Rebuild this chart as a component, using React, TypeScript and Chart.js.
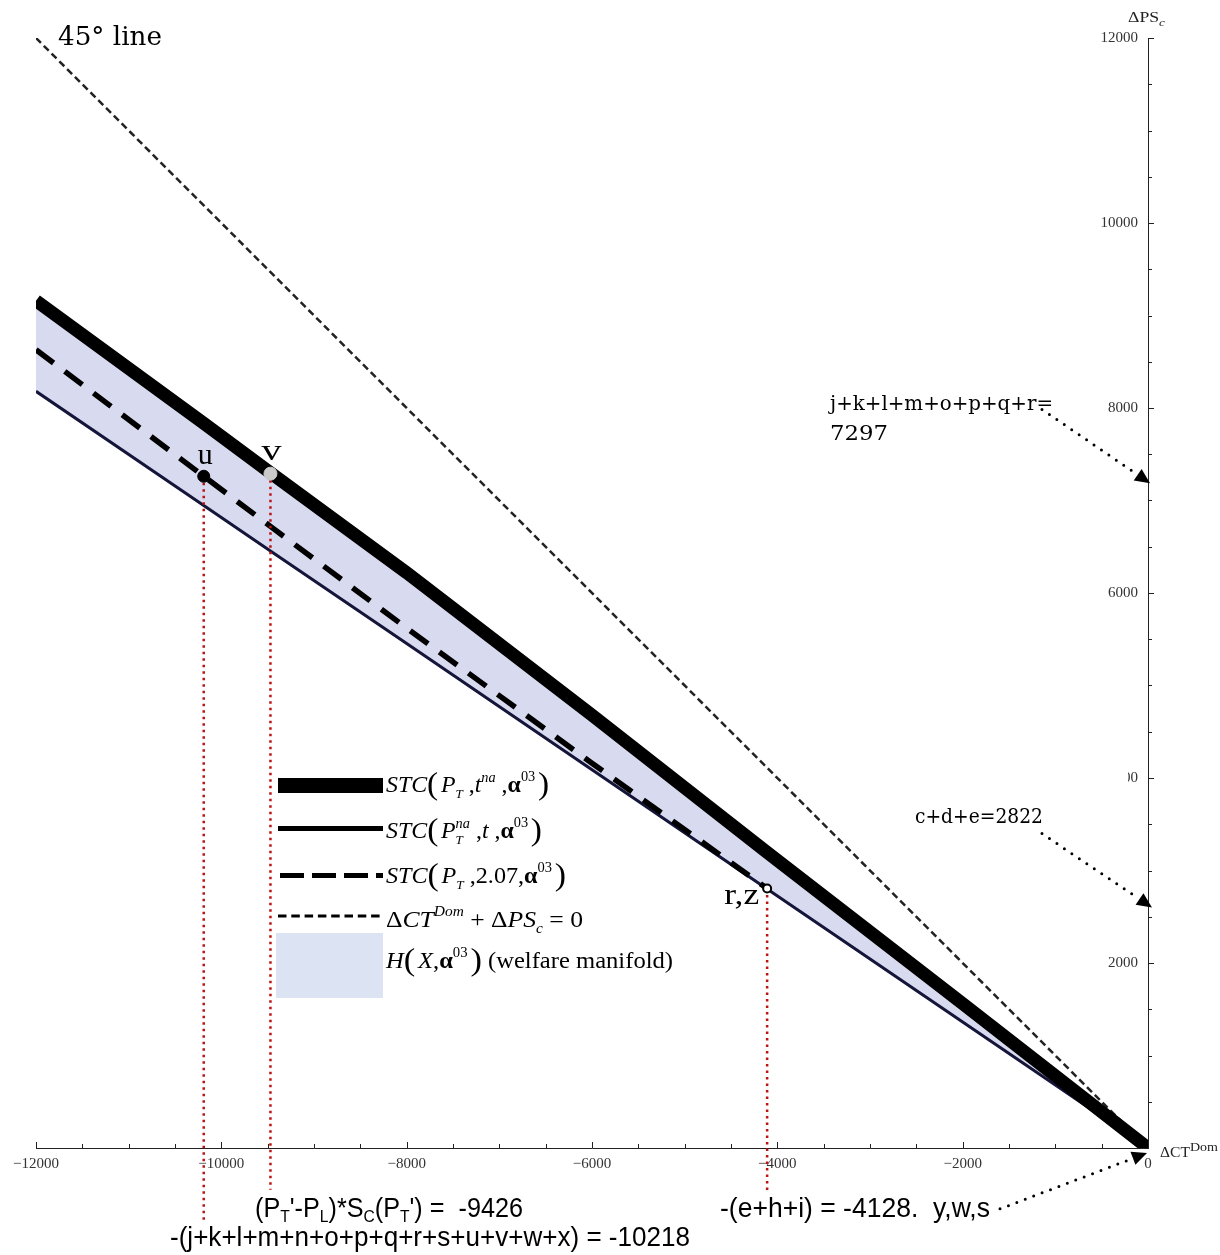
import React, { useEffect, useRef } from 'react';
import { Chart, registerables } from 'chart.js';

Chart.register(...registerables);

// ---------------- data ----------------
const curveX = [-12000, -10190, -9470, -8000, -6000, -4110, -2000, 0];
const stcTaxNa = [9160, 7834, 7300, 6220, 4680, 3195, 1560, 0]; // STC(P_T, t^na, α03)  thick
const stcPriceNa = [8180, 6945, 6455, 5453, 4090, 2801, 1363, 0]; // STC(P_T^na, t, α03) thin
const stcTax207 = [8630, 7262, 6720, 5620, 4160, 2805, null, null]; // STC(P_T, 2.07, α03) dashed
const line45X = [-12000, 0];
const line45Y = [12000, 0];
const markLabels = ['u', 'v', 'r,z'];
const markX = [-10190, -9470, -4110];
const markY = [7262, 7290, 2805];
const dropBottomY = [-800, -450, -470];
const xMajorTicks = [-12000, -10000, -8000, -6000, -4000, -2000, 0];
const yMajorTicks = [2000, 4000, 6000, 8000, 10000, 12000];
const arrowFrom = [
  [-1144, 7985],
  [-1144, 3399],
  [-1597, -658],
];
const arrowTo = [
  [22, 7187],
  [43, 2601],
  [-11, -54],
];

const SERIF = '"Liberation Serif", "Times New Roman", serif';
const NOTE = '"DejaVu Serif", serif';
const NARROW = '"Liberation Sans Narrow", "Liberation Sans", sans-serif';

type Run = { t: string; f?: string; s?: number; dy?: number; ov?: boolean };

function drawRuns(
  ctx: CanvasRenderingContext2D,
  runs: Run[],
  x: number,
  y: number,
  size: number,
  family: string,
  targetW?: number,
  color = '#000'
) {
  let cx = 0;
  let prevStart = 0;
  let prevW = 0;
  const items: { t: string; font: string; x: number; dy: number }[] = [];
  for (const r of runs) {
    const sz = size * (r.s ?? 1);
    const font = `${r.f ?? ''} ${sz}px ${family}`.trim();
    ctx.font = font;
    const w = ctx.measureText(r.t).width;
    if (r.ov) {
      items.push({ t: r.t, font, x: prevStart, dy: (r.dy ?? 0) * size });
      prevW = Math.max(prevW, w);
      cx = prevStart + prevW;
    } else {
      items.push({ t: r.t, font, x: cx, dy: (r.dy ?? 0) * size });
      prevStart = cx;
      prevW = w;
      cx += w;
    }
  }
  const sx = targetW ? targetW / cx : 1;
  ctx.save();
  ctx.translate(x, y);
  ctx.scale(sx, 1);
  ctx.fillStyle = color;
  ctx.textAlign = 'left';
  ctx.textBaseline = 'alphabetic';
  for (const it of items) {
    ctx.font = it.font;
    ctx.fillText(it.t, it.x, it.dy);
  }
  ctx.restore();
}

function arrow(ctx: CanvasRenderingContext2D, x1: number, y1: number, x2: number, y2: number) {
  const a = Math.atan2(y2 - y1, x2 - x1);
  const L = 15;
  const W = 7;
  const c = Math.cos(a);
  const s = Math.sin(a);
  const bx = x2 - L * c;
  const by = y2 - L * s;
  ctx.save();
  ctx.strokeStyle = '#000';
  ctx.lineWidth = 3;
  ctx.lineCap = 'round';
  ctx.setLineDash([0, 9]);
  ctx.beginPath();
  ctx.moveTo(x1, y1);
  ctx.lineTo(bx - 3 * c, by - 3 * s);
  ctx.stroke();
  ctx.restore();
  ctx.save();
  ctx.fillStyle = '#000';
  ctx.beginPath();
  ctx.moveTo(x2, y2);
  ctx.lineTo(bx + W * s, by - W * c);
  ctx.lineTo(bx - W * s, by + W * c);
  ctx.closePath();
  ctx.fill();
  ctx.restore();
}

const P = (t: string, extra: Partial<Run> = {}): Run => ({ t, ...extra });
const sp: Run = { t: ' ', s: 0.45 };
const bigL: Run = { t: '(', s: 1.4, dy: 0.1 };
const bigR: Run = { t: ')', s: 1.4, dy: 0.1 };
const alpha03: Run[] = [
  { t: 'α', f: 'bold' },
  { t: '03', s: 0.6, dy: -0.5 },
];

const legendRows: { runs: Run[]; y: number; w: number }[] = [
  {
    runs: [
      P('STC', { f: 'italic' }),
      bigL,
      sp,
      P('P', { f: 'italic' }),
      P('T', { f: 'italic', s: 0.55, dy: 0.28 }),
      P(' ,'),
      P('t', { f: 'italic' }),
      P('na', { f: 'italic', s: 0.6, dy: -0.45 }),
      P(' ,'),
      ...alpha03,
      sp,
      bigR,
    ],
    y: 792,
    w: 163,
  },
  {
    runs: [
      P('STC', { f: 'italic' }),
      bigL,
      sp,
      P('P', { f: 'italic' }),
      P('na', { f: 'italic', s: 0.6, dy: -0.45 }),
      P('T', { f: 'italic', s: 0.55, dy: 0.28, ov: true }),
      P(' ,'),
      P('t', { f: 'italic' }),
      P(' ,'),
      ...alpha03,
      sp,
      bigR,
    ],
    y: 838,
    w: 156,
  },
  {
    runs: [
      P('STC', { f: 'italic' }),
      bigL,
      sp,
      P('P', { f: 'italic' }),
      P('T', { f: 'italic', s: 0.55, dy: 0.28 }),
      P(' ,2.07,'),
      ...alpha03,
      sp,
      bigR,
    ],
    y: 883,
    w: 180,
  },
  {
    runs: [
      P('Δ'),
      P('CT', { f: 'italic' }),
      P('Dom', { f: 'italic', s: 0.6, dy: -0.5 }),
      P(' + Δ'),
      P('PS', { f: 'italic' }),
      P('c', { f: 'italic', s: 0.6, dy: 0.25 }),
      P(' = 0'),
    ],
    y: 927,
    w: 197,
  },
  {
    runs: [
      P('H', { f: 'italic' }),
      bigL,
      sp,
      P('X', { f: 'italic' }),
      P(','),
      ...alpha03,
      sp,
      bigR,
      P(' (welfare manifold)'),
    ],
    y: 968,
    w: 287,
  },
];

const fmt = (v: number) => (v < 0 ? '−' + Math.abs(v) : String(v));

const decor = {
  id: 'decor',
  afterDraw(chart: any) {
    const ctx: CanvasRenderingContext2D = chart.ctx;
    const xs = chart.scales.x;
    const ys = chart.scales.y;
    const ax = chart.chartArea.right;
    const ay = chart.chartArea.bottom;

    // tick marks
    ctx.save();
    ctx.strokeStyle = '#222';
    ctx.lineWidth = 1;
    ctx.beginPath();
    for (const t of xs.ticks) {
      if (t.value === 0) continue;
      const px = Math.round(xs.getPixelForValue(t.value)) + 0.5;
      const len = t.value % 2000 === 0 ? 6 : 4;
      ctx.moveTo(px, ay);
      ctx.lineTo(px, ay - len);
    }
    for (const t of ys.ticks) {
      if (t.value === 0) continue;
      const py = Math.round(ys.getPixelForValue(t.value)) + 0.5;
      const len = t.value % 2000 === 0 ? 6 : 4;
      ctx.moveTo(ax, py);
      ctx.lineTo(ax + len, py);
    }
    ctx.stroke();
    ctx.restore();

    // part of the 4000 label is hidden in the original
    const y4 = ys.getPixelForValue(4000);
    ctx.save();
    ctx.fillStyle = '#fff';
    ctx.fillRect(1098, y4 - 9, 30, 18);
    ctx.restore();

    // axis titles
    drawRuns(ctx, [P('ΔPS'), P('c', { f: 'italic', s: 0.75, dy: 0.3 })], 1128, 22, 14, SERIF, 37, '#222');
    drawRuns(ctx, [P('ΔCT'), P('Dom', { s: 0.9, dy: -0.4 })], 1160, 1157, 14, SERIF, 58, '#222');

    // point labels
    const ux = xs.getPixelForValue(markX[0]);
    const uy = ys.getPixelForValue(markY[0]);
    const vx = xs.getPixelForValue(markX[1]);
    const vy = ys.getPixelForValue(markY[1]);
    const rx = xs.getPixelForValue(markX[2]);
    const ry = ys.getPixelForValue(markY[2]);
    drawRuns(ctx, [P(markLabels[0])], ux - 6, uy - 12, 29, SERIF, 15);
    drawRuns(ctx, [P(markLabels[1])], vx - 9, vy - 14, 29, SERIF, 20);
    drawRuns(ctx, [P(markLabels[2])], rx - 43, ry + 15, 30, SERIF, 35);

    // annotations
    drawRuns(ctx, [P('45° line')], 58, 45, 26, NOTE, 104);
    drawRuns(ctx, [P('j+k+l+m+o+p+q+r=')], 830, 410, 21, NOTE, 223);
    drawRuns(ctx, [P('7297')], 830, 440, 21, NOTE, 58);
    drawRuns(ctx, [P('c+d+e=2822')], 915, 823, 21, NOTE, 128);

    const sub = (t: string): Run => ({ t, s: 0.62, dy: 0.2 });
    drawRuns(
      ctx,
      [P('(P'), sub('T'), P("'-P"), sub('L'), P(')*S'), sub('C'), P('(P'), sub('T'), P("') =  -9426")],
      255,
      1217,
      27,
      NARROW,
      268
    );
    drawRuns(ctx, [P('-(j+k+l+m+n+o+p+q+r+s+u+v+w+x) = -10218')], 170, 1246, 27, NARROW, 520);
    drawRuns(ctx, [P('-(e+h+i) = -4128.  y,w,s')], 720, 1217, 27, NARROW, 270);

    // arrows
    for (let i = 0; i < arrowFrom.length; i++) {
      arrow(
        ctx,
        xs.getPixelForValue(arrowFrom[i][0]),
        ys.getPixelForValue(arrowFrom[i][1]),
        xs.getPixelForValue(arrowTo[i][0]),
        ys.getPixelForValue(arrowTo[i][1])
      );
    }

    // legend
    ctx.save();
    ctx.fillStyle = '#000';
    ctx.fillRect(278, 778, 105, 15);
    ctx.strokeStyle = '#000';
    ctx.lineWidth = 5;
    ctx.beginPath();
    ctx.moveTo(278, 828.5);
    ctx.lineTo(383, 828.5);
    ctx.stroke();
    ctx.setLineDash([24, 8]);
    ctx.beginPath();
    ctx.moveTo(280, 875.5);
    ctx.lineTo(383, 875.5);
    ctx.stroke();
    ctx.lineWidth = 3;
    ctx.setLineDash([8.5, 4.8]);
    ctx.beginPath();
    ctx.moveTo(278, 916);
    ctx.lineTo(383, 916);
    ctx.stroke();
    ctx.setLineDash([]);
    ctx.fillStyle = '#DCE3F2';
    ctx.fillRect(276, 933, 107, 65);
    ctx.restore();
    for (const row of legendRows) {
      drawRuns(ctx, row.runs, 386, row.y, 23, SERIF, row.w);
    }
  },
};

export default function App() {
  const ref = useRef<HTMLCanvasElement>(null);
  useEffect(() => {
    document.body.style.margin = '0';
    const canvas = ref.current;
    if (!canvas) return;
    const pts = (xa: number[], ya: (number | null)[]) => xa.map((x, i) => ({ x, y: ya[i] }));
    const drop = (i: number) => ({
      data: [
        { x: markX[i], y: markY[i] },
        { x: markX[i], y: dropBottomY[i] },
      ],
      borderColor: 'rgb(188,20,20)',
      borderWidth: 2.5,
      borderDash: [2.5, 4],
      pointRadius: 0,
      fill: false,
      clip: false as const,
      order: 1,
    });
    const chart = new Chart(canvas, {
      type: 'line',
      data: {
        datasets: [
          {
            data: pts(curveX, stcTaxNa),
            borderColor: '#000',
            borderWidth: 13,
            pointRadius: 0,
            fill: 2,
            backgroundColor: 'rgb(216,218,239)',
            order: 2,
          },
          {
            data: pts(curveX, stcTax207),
            borderColor: '#000',
            borderWidth: 5.5,
            borderDash: [22, 14],
            pointRadius: 0,
            fill: false,
            spanGaps: false,
            order: 3,
          },
          {
            data: pts(curveX, stcPriceNa),
            borderColor: '#15153a',
            borderWidth: 3,
            pointRadius: 0,
            fill: false,
            order: 4,
          },
          {
            data: pts(line45X, line45Y),
            borderColor: '#222',
            borderWidth: 2.5,
            borderDash: [7, 4],
            pointRadius: 0,
            fill: false,
            order: 6,
          },
          drop(0),
          drop(1),
          drop(2),
          {
            data: pts(markX, markY),
            showLine: false,
            pointRadius: [6, 6.5, 4],
            pointBackgroundColor: ['#000', '#c9c9c9', '#fff'],
            pointBorderColor: ['#000', '#c9c9c9', '#000'],
            pointBorderWidth: [1, 1, 2],
            fill: false,
            clip: false as const,
            order: 0,
          },
        ] as any,
      },
      options: {
        animation: false,
        responsive: false,
        devicePixelRatio: 1,
        events: [],
        layout: { padding: { left: 36, top: 38, right: 0, bottom: 0 } },
        plugins: {
          legend: { display: false },
          tooltip: { enabled: false },
          filler: { propagate: false, drawTime: 'beforeDatasetsDraw' },
        } as any,
        scales: {
          x: {
            type: 'linear',
            position: 'bottom',
            min: -12000,
            max: 0,
            afterFit: (s: any) => {
              s.height = 107;
            },
            grid: { display: false, drawTicks: false },
            border: { display: true, color: '#222', width: 1 },
            ticks: {
              stepSize: 500,
              autoSkip: false,
              maxRotation: 0,
              minRotation: 0,
              padding: 7,
              color: '#333',
              font: { family: SERIF, size: 15 },
              callback: (v: any) => (xMajorTicks.includes(Number(v)) ? fmt(Number(v)) : ''),
            },
          },
          y: {
            type: 'linear',
            position: 'right',
            min: 0,
            max: 12000,
            afterFit: (s: any) => {
              s.width = 72;
            },
            grid: { display: false, drawTicks: false },
            border: { display: true, color: '#222', width: 1 },
            ticks: {
              stepSize: 500,
              autoSkip: false,
              mirror: true,
              padding: -10,
              color: '#333',
              font: { family: SERIF, size: 15 },
              callback: (v: any) => (yMajorTicks.includes(Number(v)) ? String(v) : ''),
            },
          },
        } as any,
      },
      plugins: [decor],
    });
    return () => chart.destroy();
  }, []);
  return <canvas ref={ref} width={1220} height={1255} style={{ display: 'block' }} />;
}
